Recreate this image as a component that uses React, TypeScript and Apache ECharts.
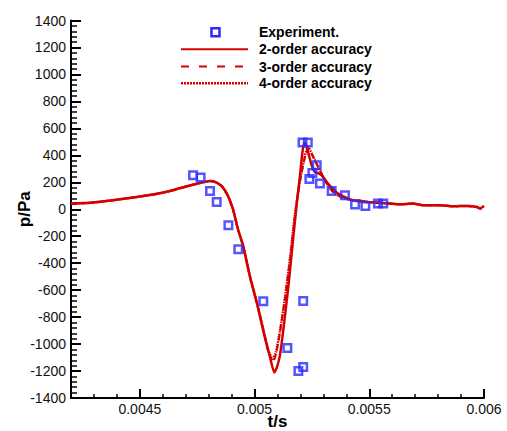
import React, { useEffect, useRef } from "react";
import * as echarts from "echarts";

// ---- Data (t in s, p in Pa) ----
const t2 = [0.0042, 0.004283, 0.004414, 0.004557, 0.004631, 0.004706, 0.004762, 0.004806, 0.004832, 0.004858, 0.004884, 0.004906, 0.004928, 0.00495, 0.00498, 0.005011, 0.005037, 0.005067, 0.005086, 0.005098, 0.005111, 0.005125, 0.005147, 0.005169, 0.005185, 0.005198, 0.005207, 0.005216, 0.005224, 0.005237, 0.00525, 0.005263, 0.005277, 0.005294, 0.00532, 0.005364, 0.005425, 0.005494, 0.00559, 0.005634, 0.005691, 0.005734, 0.005808, 0.005865, 0.005926, 0.005969, 0.005983, 0.006];
const p2 = [42, 48, 74, 109, 135, 171, 195, 210, 200, 170, 100, 0, -150, -270, -500, -700, -895, -1096, -1210, -1170, -1080, -900, -577, -205, 60, 250, 400, 492, 480, 400, 320, 275, 268, 250, 190, 116, 67, 54, 42, 37, 42, 30, 30, 22, 25, 17, 5, 25];

const t3 = [0.0042, 0.004283, 0.004414, 0.004557, 0.004631, 0.004706, 0.004762, 0.004806, 0.004832, 0.004858, 0.004884, 0.004906, 0.004928, 0.00495, 0.00498, 0.005011, 0.005037, 0.005059, 0.005081, 0.005094, 0.005111, 0.005133, 0.005154, 0.005176, 0.005198, 0.00522, 0.005236, 0.005249, 0.005278, 0.005307, 0.005343, 0.005394, 0.005467, 0.005494, 0.00559, 0.005634, 0.005691, 0.005734, 0.005808, 0.005865, 0.005926, 0.005969, 0.005983, 0.006];
const p3 = [42, 48, 74, 109, 135, 171, 195, 210, 200, 170, 100, 0, -150, -270, -500, -700, -885, -1050, -1130, -1070, -910, -660, -380, -50, 205, 390, 450, 410, 310, 212, 126, 78, 62, 54, 42, 37, 42, 30, 30, 22, 25, 17, 5, 25];

const t4 = [0.0042, 0.004283, 0.004414, 0.004557, 0.004631, 0.004706, 0.004762, 0.004806, 0.004832, 0.004858, 0.004884, 0.004906, 0.004928, 0.00495, 0.00498, 0.005011, 0.005037, 0.005059, 0.005079, 0.005093, 0.005111, 0.005133, 0.005154, 0.005176, 0.005198, 0.00522, 0.005234, 0.005249, 0.005278, 0.005307, 0.005343, 0.005394, 0.005467, 0.005494, 0.00559, 0.005634, 0.005691, 0.005734, 0.005808, 0.005865, 0.005926, 0.005969, 0.005983, 0.006];
const p4 = [42, 48, 74, 109, 135, 171, 195, 210, 200, 170, 100, 0, -150, -270, -500, -700, -880, -1040, -1110, -1060, -900, -650, -370, -40, 215, 400, 462, 413, 314, 215, 128, 79, 62, 54, 42, 37, 42, 30, 30, 22, 25, 17, 5, 25];

const tExp = [0.004732, 0.004765, 0.004806, 0.004835, 0.004886, 0.004929, 0.005038, 0.005143, 0.005212, 0.005212, 0.005191, 0.005209, 0.005232, 0.005271, 0.005252, 0.005239, 0.005285, 0.005336, 0.005394, 0.005438, 0.005483, 0.005538, 0.005561];
const pExp = [252, 235, 136, 54, -119, -297, -683, -1029, -680, -1170, -1200, 495, 495, 327, 269, 225, 191, 136, 104, 35, 24, 42, 42];

const xMajorTicks = [0.0045, 0.005, 0.0055, 0.006];
const seriesNames = ["Experiment.", "2-order accuracy", "3-order accuracy", "4-order accuracy"];

const RED = "#d40000";
const BLUE = "#2b2bff";
const FONT = "'Liberation Sans', Arial, sans-serif";

const zip = (a: number[], b: number[]) => a.map((v, i) => [v, b[i]]);

export default function App() {
  const ref = useRef<HTMLDivElement>(null);
  useEffect(() => {
    if (!ref.current) return;
    const chart = echarts.init(ref.current, undefined, { renderer: "svg" });
    const legendRows = [32.3, 49.3, 66.5, 83.3];
    const option: any = {
      animation: false,
      backgroundColor: "#fff",
      grid: { left: 71, right: 23, top: 20.5, bottom: 33, containLabel: false, outerBoundsMode: "none" },
      xAxis: [
        {
          type: "value",
          min: 0.0042,
          max: 0.006,
          interval: 0.0001,
          axisLine: { show: true, onZero: false, lineStyle: { color: "#000", width: 2 } },
          axisTick: { show: true, inside: true, length: 4, lineStyle: { color: "#000", width: 1.5 } },
          axisLabel: {
            color: "#111",
            fontSize: 14,
            fontFamily: FONT,
            margin: 4,
            formatter: (v: number) => {
              const k = Math.round(v * 1e5);
              return k % 50 === 0 ? String(k / 1e5) : "";
            },
          },
          splitLine: { show: false },
          name: "t/s",
          nameLocation: "middle",
          nameGap: 15,
          nameMoveOverlap: false,
          nameTextStyle: { fontWeight: "bold", fontSize: 17, color: "#000", fontFamily: FONT },
        },
        {
          type: "value",
          position: "bottom",
          min: 0.0042,
          max: 0.006,
          interval: 0.0001,
          axisLine: { show: false, onZero: false },
          axisTick: { show: true, inside: true, length: 9, customValues: xMajorTicks, lineStyle: { color: "#000", width: 2 } },
          axisLabel: { show: false },
          splitLine: { show: false },
        },
      ],
      yAxis: {
        type: "value",
        min: -1400,
        max: 1400,
        interval: 200,
        axisLine: { show: true, onZero: false, lineStyle: { color: "#000", width: 2 } },
        axisTick: { show: true, inside: true, length: 10, lineStyle: { color: "#000", width: 2 } },
        minorTick: { show: true, splitNumber: 5, length: 6, lineStyle: { color: "#000", width: 1.5 } },
        axisLabel: { color: "#111", fontSize: 14, fontFamily: FONT, margin: 5, formatter: (v: number) => String(v) },
        splitLine: { show: false },
        name: "p/Pa",
        nameLocation: "middle",
        nameGap: 38,
        nameRotate: 90,
        nameMoveOverlap: false,
        nameTextStyle: { fontWeight: "bold", fontSize: 17, color: "#000", fontFamily: FONT },
      },
      series: [
        {
          type: "line",
          name: seriesNames[1],
          data: zip(t2, p2),
          symbol: "none",
          smooth: 0.2,
          lineStyle: { color: RED, width: 2.5 },
          z: 2,
        },
        {
          type: "line",
          name: seriesNames[2],
          data: zip(t3, p3),
          symbol: "none",
          smooth: 0.2,
          lineStyle: { color: RED, width: 2, type: [6, 4] },
          z: 2,
        },
        {
          type: "line",
          name: seriesNames[3],
          data: zip(t4, p4),
          symbol: "none",
          smooth: 0.2,
          lineStyle: { color: RED, width: 2.5, type: [1.5, 1] },
          z: 2,
        },
        {
          type: "scatter",
          name: seriesNames[0],
          data: zip(tExp, pExp),
          symbol: "rect",
          symbolSize: 7.5,
          itemStyle: { color: "rgba(255,255,255,0)", borderColor: BLUE, borderWidth: 2.5 },
          z: 3,
        },
      ],
      graphic: [
        {
          type: "rect",
          shape: { x: 211.5, y: legendRows[0] - 4, width: 8, height: 8 },
          style: { fill: "none", stroke: BLUE, lineWidth: 2.5 },
        },
        {
          type: "line",
          shape: { x1: 181, y1: legendRows[1], x2: 248, y2: legendRows[1] },
          style: { stroke: RED, lineWidth: 2 },
        },
        {
          type: "line",
          shape: { x1: 181, y1: legendRows[2], x2: 248, y2: legendRows[2] },
          style: { stroke: RED, lineWidth: 2, lineDash: [8, 10] },
        },
        {
          type: "line",
          shape: { x1: 181, y1: legendRows[3], x2: 248, y2: legendRows[3] },
          style: { stroke: RED, lineWidth: 2.5, lineDash: [2, 1] },
        },
        ...seriesNames.map((name, i) => ({
          type: "text",
          x: 259,
          y: legendRows[i],
          style: {
            text: name,
            font: `bold 14px ${FONT}`,
            fill: "#000",
            verticalAlign: "middle",
            align: "left",
          },
        })),
      ],
    };
    chart.setOption(option);
    return () => chart.dispose();
  }, []);
  return (
    <div
      ref={ref}
      style={{ position: "fixed", left: 0, top: 0, width: 507, height: 431, background: "#fff" }}
    />
  );
}
